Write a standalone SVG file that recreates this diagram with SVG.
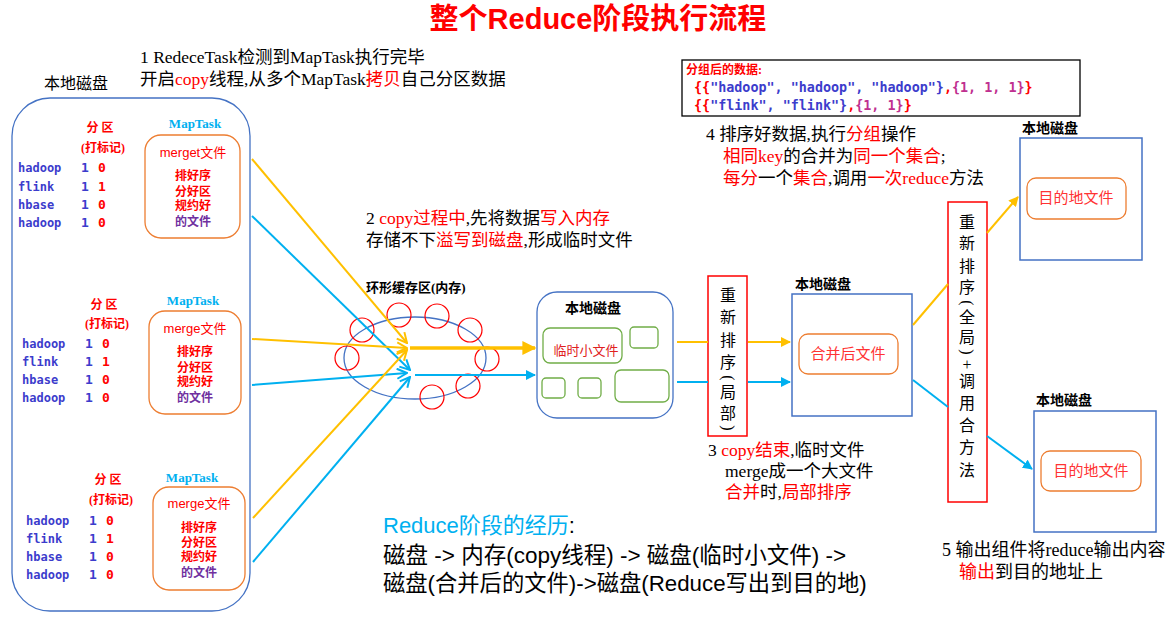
<svg xmlns="http://www.w3.org/2000/svg" width="1174" height="624" viewBox="0 0 1174 624">
<defs>
<style>
.cjk{font-family:"Liberation Serif","Noto Sans CJK SC",serif;}
.sans{font-family:"Liberation Sans","Noto Sans CJK SC",sans-serif;}
.mono{font-family:"DejaVu Sans Mono","Noto Sans CJK SC",monospace;font-weight:bold;}
.r{fill:#ff0000;}
.k{fill:#000000;}
.b{fill:#3c3ccc;}
.pu{fill:#7030a0;}
.cy{fill:#00b0f0;}
.ann{font-size:17.5px;}
.disk{font-size:16px;}
.panel{fill:none;stroke:#4472c4;stroke-width:1.3;}
.obox{fill:none;stroke:#ed7d31;stroke-width:1.3;}
.gbox{fill:none;stroke:#70ad47;stroke-width:1.3;}
.bbox{fill:none;stroke:#4472c4;stroke-width:1.5;}
.rbox{fill:none;stroke:#ff0000;stroke-width:1.5;}
.rc{fill:none;stroke:#ff0000;stroke-width:1.2;}
.y{stroke:#ffc000;stroke-width:2;fill:none;}
.bl{stroke:#00b0f0;stroke-width:2;fill:none;}
.fq{font-size:12px;font-weight:bold;}
.mt{font-size:13px;font-weight:bold;fill:#00b0f0;}
.mf{font-size:13px;fill:#ff0000;}
.st{font-size:12px;font-weight:bold;}
.vt{font-size:16px;text-anchor:middle;dominant-baseline:central;}
</style>
<marker id="oy" viewBox="0 0 12 12" refX="11" refY="6" markerWidth="6" markerHeight="6" orient="auto" markerUnits="strokeWidth"><path d="M1,1 L11,6 L1,11" fill="none" stroke="#ffc000" stroke-width="2"/></marker>
<marker id="ob" viewBox="0 0 12 12" refX="11" refY="6" markerWidth="6" markerHeight="6" orient="auto" markerUnits="strokeWidth"><path d="M1,1 L11,6 L1,11" fill="none" stroke="#00b0f0" stroke-width="2"/></marker>
<marker id="fy" viewBox="0 0 10 10" refX="9" refY="5" markerWidth="4" markerHeight="4" orient="auto" markerUnits="strokeWidth"><path d="M0,0 L10,5 L0,10 Z" fill="#ffc000"/></marker>
<marker id="fb" viewBox="0 0 10 10" refX="9" refY="5" markerWidth="5" markerHeight="5" orient="auto" markerUnits="strokeWidth"><path d="M0,0 L10,5 L0,10 Z" fill="#00b0f0"/></marker>
<marker id="fy2" viewBox="0 0 10 10" refX="9" refY="5" markerWidth="5" markerHeight="5" orient="auto" markerUnits="strokeWidth"><path d="M0,0 L10,5 L0,10 Z" fill="#ffc000"/></marker>
</defs>
<rect width="1174" height="624" fill="#ffffff"/>

<text x="598" y="29" text-anchor="middle" class="sans" font-size="29" font-weight="bold" fill="#ff0000">整个Reduce阶段执行流程</text>

<g id="step1" class="cjk ann">
<text x="140" y="63" class="k">1 RedeceTask检测到MapTask执行完毕</text>
<text x="140" y="85" class="k">开启<tspan class="r">copy</tspan>线程,从多个MapTask<tspan class="r">拷贝</tspan>自己分区数据</text>
</g>

<g id="leftdisk">
<text x="44" y="89" class="cjk disk k">本地磁盘</text>
<rect x="12" y="98" width="238" height="513" rx="38" class="panel"/>
</g>

<g id="maptask1">
<text x="100" y="132" text-anchor="middle" class="cjk fq r">分 区</text>
<text x="103" y="152" text-anchor="middle" class="cjk fq r">(打标记)</text>
<text x="18" y="172" class="mono b" font-size="12">hadoop</text>
<text x="18" y="191" class="mono b" font-size="12">flink</text>
<text x="18" y="209" class="mono b" font-size="12">hbase</text>
<text x="18" y="227" class="mono b" font-size="12">hadoop</text>
<g class="mono" font-size="13"><text x="81" y="172" class="b">1</text><text x="98" y="172" class="r">0</text><text x="81" y="191" class="b">1</text><text x="98" y="191" class="r">1</text><text x="81" y="209" class="b">1</text><text x="98" y="209" class="r">0</text><text x="81" y="227" class="b">1</text><text x="98" y="227" class="r">0</text></g>
<text x="195" y="128" text-anchor="middle" class="cjk mt">MapTask</text>
<rect x="145" y="135" width="95" height="103" rx="16" class="obox"/>
<text x="193" y="157" text-anchor="middle" class="sans mf">merget文件</text>
<text x="193" y="180" text-anchor="middle" class="sans st r">排好序</text>
<text x="193" y="196" text-anchor="middle" class="sans st r">分好区</text>
<text x="193" y="210" text-anchor="middle" class="sans st r">规约好</text>
<text x="193" y="226" text-anchor="middle" class="sans st pu">的文件</text>
</g>

<g id="maptask2">
<text x="104" y="309" text-anchor="middle" class="cjk fq r">分 区</text>
<text x="107" y="328" text-anchor="middle" class="cjk fq r">(打标记)</text>
<text x="22" y="348" class="mono b" font-size="12">hadoop</text>
<text x="22" y="366" class="mono b" font-size="12">flink</text>
<text x="22" y="384" class="mono b" font-size="12">hbase</text>
<text x="22" y="402" class="mono b" font-size="12">hadoop</text>
<g class="mono" font-size="13"><text x="85" y="348" class="b">1</text><text x="102" y="348" class="r">0</text><text x="85" y="366" class="b">1</text><text x="102" y="366" class="r">1</text><text x="85" y="384" class="b">1</text><text x="102" y="384" class="r">0</text><text x="85" y="402" class="b">1</text><text x="102" y="402" class="r">0</text></g>
<text x="193" y="305" text-anchor="middle" class="cjk mt">MapTask</text>
<rect x="149" y="311" width="92" height="103" rx="16" class="obox"/>
<text x="195" y="333" text-anchor="middle" class="sans mf">merge文件</text>
<text x="195" y="356" text-anchor="middle" class="sans st r">排好序</text>
<text x="195" y="372" text-anchor="middle" class="sans st r">分好区</text>
<text x="195" y="386" text-anchor="middle" class="sans st r">规约好</text>
<text x="195" y="402" text-anchor="middle" class="sans st pu">的文件</text>
</g>

<g id="maptask3">
<text x="108" y="484" text-anchor="middle" class="cjk fq r">分 区</text>
<text x="111" y="504" text-anchor="middle" class="cjk fq r">(打标记)</text>
<text x="26" y="525" class="mono b" font-size="12">hadoop</text>
<text x="26" y="543" class="mono b" font-size="12">flink</text>
<text x="26" y="561" class="mono b" font-size="12">hbase</text>
<text x="26" y="579" class="mono b" font-size="12">hadoop</text>
<g class="mono" font-size="13"><text x="89" y="525" class="b">1</text><text x="106" y="525" class="r">0</text><text x="89" y="543" class="b">1</text><text x="106" y="543" class="r">1</text><text x="89" y="561" class="b">1</text><text x="106" y="561" class="r">0</text><text x="89" y="579" class="b">1</text><text x="106" y="579" class="r">0</text></g>
<text x="192" y="482" text-anchor="middle" class="cjk mt">MapTask</text>
<rect x="153" y="487" width="92" height="103" rx="16" class="obox"/>
<text x="199" y="508" text-anchor="middle" class="sans mf">merge文件</text>
<text x="199" y="532" text-anchor="middle" class="sans st r">排好序</text>
<text x="199" y="547" text-anchor="middle" class="sans st r">分好区</text>
<text x="199" y="561" text-anchor="middle" class="sans st r">规约好</text>
<text x="199" y="577" text-anchor="middle" class="sans st pu">的文件</text>
</g>

<g id="step2" class="cjk ann">
<text x="366" y="224" class="k">2 <tspan class="r">copy过程中</tspan>,先将数据<tspan class="r">写入内存</tspan></text>
<text x="366" y="246" class="k">存储不下<tspan class="r">溢写到磁盘</tspan>,形成临时文件</text>
</g>

<g id="ringbuffer">
<text x="366" y="292" class="cjk k" font-size="13" font-weight="bold">环形缓存区(内存)</text>
<ellipse cx="415" cy="358" rx="71" ry="41" fill="none" stroke="#4472c4" stroke-width="1.3"/>
<circle cx="362" cy="330" r="12" class="rc"/>
<circle cx="399" cy="315" r="12" class="rc"/>
<circle cx="437" cy="316" r="12" class="rc"/>
<circle cx="470" cy="330" r="12" class="rc"/>
<circle cx="487" cy="359" r="12" class="rc"/>
<circle cx="468" cy="386" r="12" class="rc"/>
<circle cx="432" cy="397" r="12" class="rc"/>
<circle cx="347" cy="358" r="12" class="rc"/>
</g>

<g id="tmpdisk">
<rect x="537" y="292" width="136" height="126" rx="20" class="panel"/>
<text x="593" y="313" text-anchor="middle" class="cjk k" font-size="14" font-weight="bold">本地磁盘</text>
<rect x="543" y="328" width="79" height="35" rx="7" class="gbox"/>
<text x="586" y="355" text-anchor="middle" class="sans" font-size="13" fill="#e02020">临时小文件</text>
<rect x="630" y="327" width="28" height="21" rx="4" class="gbox"/>
<rect x="542" y="378" width="23" height="20" rx="4" class="gbox"/>
<rect x="578" y="378" width="23" height="20" rx="4" class="gbox"/>
<rect x="615" y="370" width="54" height="32" rx="6" class="gbox"/>
</g>

<g id="sortlocal">
<rect x="708" y="276" width="39" height="160" class="rbox"/>
<g class="cjk vt k">
<text x="728" y="295">重</text><text x="728" y="317">新</text><text x="728" y="340">排</text><text x="728" y="362">序</text><text x="728" y="378" transform="rotate(90 728 378)">(</text><text x="728" y="392">局</text><text x="728" y="413">部</text><text x="728" y="428" transform="rotate(90 728 428)">)</text>
</g>
</g>

<g id="step3" class="cjk ann">
<text x="708" y="456" class="k">3 <tspan class="r">copy结束</tspan>,临时文件</text>
<text x="725" y="477" class="k">merge成一个大文件</text>
<text x="725" y="498" class="r">合并<tspan class="k">时,</tspan>局部排序</text>
</g>

<g id="mergedisk">
<text x="795" y="289" class="cjk k" font-size="14" font-weight="bold">本地磁盘</text>
<rect x="792" y="294" width="120" height="122" class="bbox"/>
<rect x="799" y="334" width="99" height="40" rx="9" class="obox"/>
<text x="848" y="359" text-anchor="middle" class="sans" font-size="15" fill="#ff3333">合并后文件</text>
</g>

<g id="sortglobal">
<rect x="948" y="202" width="39" height="300" class="rbox"/>
<g class="cjk vt k">
<text x="967" y="222">重</text><text x="967" y="243">新</text><text x="967" y="266">排</text><text x="967" y="287">序</text><text x="967" y="303" transform="rotate(90 967 303)">(</text><text x="967" y="317">全</text><text x="967" y="337">局</text><text x="967" y="352" transform="rotate(90 967 352)">)</text><text x="967" y="364">+</text><text x="967" y="381">调</text><text x="967" y="403">用</text><text x="967" y="425">合</text><text x="967" y="447">方</text><text x="967" y="470">法</text>
</g>
</g>

<g id="groupdata">
<rect x="682" y="60" width="398" height="56" fill="none" stroke="#000" stroke-width="1.3"/>
<text x="686" y="74" class="cjk r" font-size="12" font-weight="bold">分组后的数据:</text>
<text x="694" y="92" class="mono" font-size="13.4"><tspan class="r">{{</tspan><tspan class="b">"hadoop", "hadoop", "hadoop"}</tspan><tspan class="r">,</tspan><tspan fill="#c03090">{1, 1, 1}</tspan><tspan class="r">}</tspan></text>
<text x="694" y="110" class="mono" font-size="13.4"><tspan class="r">{{</tspan><tspan class="b">"flink", "flink"}</tspan><tspan class="r">,</tspan><tspan fill="#c03090">{1, 1}</tspan><tspan class="r">}</tspan></text>
</g>

<g id="step4" class="cjk ann">
<text x="706" y="140" class="k">4 排序好数据,执行<tspan class="r">分组</tspan>操作</text>
<text x="723" y="162" class="r">相同key<tspan class="k">的合并为</tspan>同一个集合<tspan class="k">;</tspan></text>
<text x="723" y="184" class="r">每分<tspan class="k">一个</tspan>集合<tspan class="k">,调用</tspan>一次reduce<tspan class="k">方法</tspan></text>
</g>

<g id="outdisk1">
<text x="1022" y="133" class="cjk k" font-size="14" font-weight="bold">本地磁盘</text>
<rect x="1020" y="138" width="122" height="122" class="bbox"/>
<rect x="1027" y="178" width="99" height="41" rx="9" class="obox"/>
<text x="1076" y="203" text-anchor="middle" class="sans" font-size="15" fill="#ff3333">目的地文件</text>
</g>

<g id="outdisk2">
<text x="1036" y="405" class="cjk k" font-size="14" font-weight="bold">本地磁盘</text>
<rect x="1034" y="411" width="122" height="121" class="bbox"/>
<rect x="1041" y="451" width="100" height="40" rx="9" class="obox"/>
<text x="1091" y="476" text-anchor="middle" class="sans" font-size="15" fill="#ff3333">目的地文件</text>
</g>

<g id="step5" class="cjk" font-size="18">
<text x="942" y="556" class="k">5 输出组件将reduce输出内容</text>
<text x="959" y="578" class="r">输出<tspan class="k">到目的地址上</tspan></text>
</g>

<g id="summary" class="sans">
<text x="383" y="533" font-size="22"><tspan class="cy">Reduce阶段的经历</tspan><tspan class="k">:</tspan></text>
<text x="383" y="563" font-size="22.5" class="k">磁盘 -&gt; 内存(copy线程) -&gt; 磁盘(临时小文件) -&gt;</text>
<text x="383" y="591" font-size="22.3" class="k">磁盘(合并后的文件)-&gt;磁盘(Reduce写出到目的地)</text>
</g>

<g id="connectors">
<line x1="252" y1="159" x2="407" y2="343" class="y" marker-end="url(#oy)"/>
<line x1="252" y1="216" x2="410" y2="370" class="bl" marker-end="url(#ob)"/>
<line x1="252" y1="339" x2="407" y2="348" class="y" marker-end="url(#oy)"/>
<line x1="252" y1="385" x2="407" y2="373" class="bl" marker-end="url(#ob)"/>
<line x1="253" y1="518" x2="407" y2="350" class="y" marker-end="url(#oy)"/>
<line x1="253" y1="562" x2="410" y2="377" class="bl" marker-end="url(#ob)"/>
<line x1="410" y1="348" x2="535" y2="348" stroke="#ffc000" stroke-width="3.5" marker-end="url(#fy)"/>
<line x1="415" y1="375" x2="535" y2="375" class="bl" marker-end="url(#fb)"/>
<line x1="677" y1="342" x2="708" y2="342" class="y"/>
<line x1="677" y1="382" x2="708" y2="382" class="bl"/>
<line x1="748" y1="342" x2="790" y2="342" class="y" marker-end="url(#fy2)"/>
<line x1="748" y1="382" x2="790" y2="382" class="bl" marker-end="url(#fb)"/>
<line x1="913" y1="325" x2="948" y2="284" class="y"/>
<line x1="987" y1="233" x2="1018" y2="197" class="y" marker-end="url(#fy2)"/>
<line x1="913" y1="380" x2="948" y2="407" class="bl"/>
<line x1="987" y1="436" x2="1032" y2="469" class="bl" marker-end="url(#fb)"/>
</g>
</svg>
